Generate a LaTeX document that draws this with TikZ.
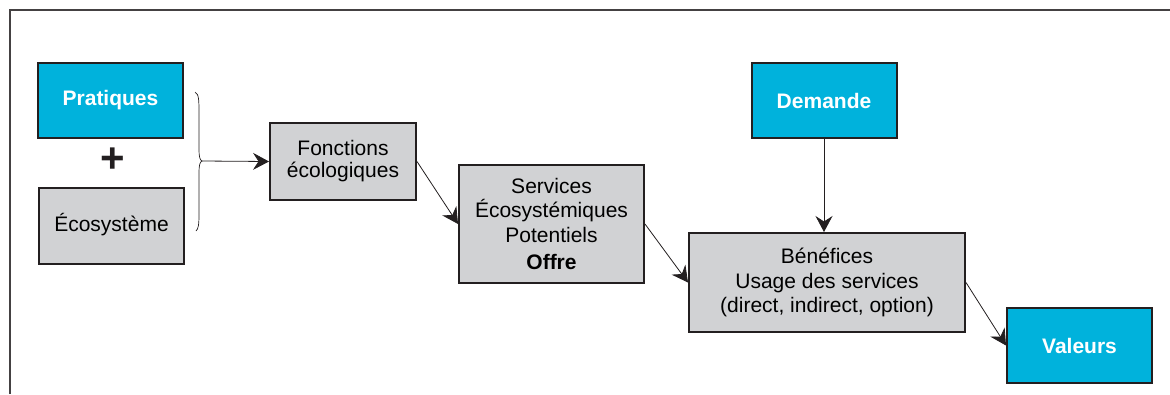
\documentclass[tikz,border=0pt]{standalone}
\usepackage{fontspec}
\setmainfont{Liberation Sans}
\usetikzlibrary{arrows.meta}
\definecolor{cyanbox}{HTML}{00B2DC}
\definecolor{graybox}{HTML}{D1D2D4}
\definecolor{ink}{HTML}{231F20}
\tikzset{
  box/.style={draw=ink, line width=2pt, minimum width=#1, inner sep=0pt, align=center,
    font=\fontsize{21}{24.5}\selectfont},
  bluebox/.style={box=145pt, fill=cyanbox, minimum height=75pt, text=white,
    font=\fontsize{21}{24.5}\selectfont\bfseries},
  graybx/.style={box=#1, fill=graybox, text=black},
  conn/.style={draw=ink, line width=0.8pt, -{Stealth[length=16pt,width=17pt,inset=5.5pt]}},
}
\begin{document}
\begin{tikzpicture}[x=1pt,y=-1pt]
\useasboundingbox (0,0) rectangle (1170,394);
% frame
\draw[ink!85, line width=2pt] (10,394) -- (10,10) -- (1170,10);
% nodes
\node[bluebox] (prat) at (110.5,100.5) {Pratiques};
\node[font=\fontsize{42}{42}\selectfont\bfseries, text=ink, inner sep=0pt] (plus) at (113,160) {+};
\node[graybx=145pt, minimum height=76pt] (eco) at (111.5,226) {\raisebox{8pt}{Écosystème}};
\node[graybx=146pt, minimum height=77pt, font=\fontsize{21}{22}\selectfont] (fonc) at (343,161.5) {Fonctions\\écologiques};
\node[graybx=185pt, minimum height=118pt] (serv) at (551.5,224) {Services\\Écosystémiques\\Potentiels\\[3pt]\textbf{Offre}};
\node[graybx=276pt, minimum height=99pt] (bene) at (827,282.5) {Bénéfices\\Usage des services\\(direct, indirect, option)};
\node[bluebox] (dem) at (824,100.5) {Demande};
\node[bluebox] (val) at (1079.5,345.5) {Valeurs};
% brace
\coordinate (bt) at (202,161);
\draw[ink, line width=0.7pt] (195,92) .. controls (199,94) and (199,100) .. (199,115)
  -- (199,150) .. controls (199,157) and (200,160) .. (bt)
  .. controls (200,162) and (199,165) .. (199,172)
  -- (199,215) .. controls (199,226) and (198,229) .. (196,231);
% connectors
\draw[conn] (bt) -- (fonc.west);
\draw[conn] (fonc.east) -- (serv.west);
\draw[conn] (serv.east) -- (bene.west);
\draw[conn] (dem.south) -- (dem.south |- bene.north);
\draw[conn] (bene.east) -- (val.west);
\end{tikzpicture}
\end{document}
